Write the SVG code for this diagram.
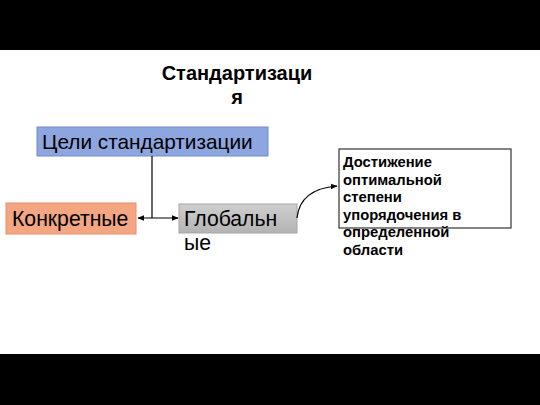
<svg xmlns="http://www.w3.org/2000/svg" width="540" height="405" viewBox="0 0 540 405">
<defs>
<style>
.t{font-family:"Liberation Sans",Arial,sans-serif;fill:#000}
.b{font-weight:bold}
.ln{stroke:#000;stroke-width:1.2;fill:none}
</style>
<marker id="ah" viewBox="0 0 10 10" refX="9" refY="5" markerWidth="7" markerHeight="7" orient="auto-start-reverse" markerUnits="userSpaceOnUse">
<path d="M0,1 L10,5 L0,9 Z" fill="#000"/>
</marker>
<linearGradient id="gg" x1="0" y1="0" x2="0" y2="1">
<stop offset="0" stop-color="#cfcfcf"/>
<stop offset="1" stop-color="#b3b3b3"/>
</linearGradient>
</defs>
<rect x="0" y="0" width="540" height="405" fill="#fff"/>
<rect x="0" y="0" width="540" height="50" fill="#000"/>
<rect x="0" y="354" width="540" height="51" fill="#000"/>

<g id="title">
<text class="t b" x="237" y="80" font-size="20" text-anchor="middle">Стандартизаци</text>
<text class="t b" x="237" y="104" font-size="20" text-anchor="middle">я</text>
</g>

<g id="goals">
<rect x="37" y="127" width="231" height="29" fill="#8ea6df" stroke="#7189c6" stroke-width="1"/>
<text class="t" x="42" y="149" font-size="20.8">Цели стандартизации</text>
</g>

<g id="concrete">
<rect x="6" y="203" width="130" height="31" fill="#f4a582" stroke="#e4906c" stroke-width="1"/>
<text class="t" x="12" y="226" font-size="21.2">Конкретные</text>
</g>

<g id="global">
<rect x="179" y="204" width="118" height="29" fill="url(#gg)" stroke="#a6a6a6" stroke-width="1"/>
<text class="t" x="184" y="226" font-size="21.2">Глобальн</text>
<text class="t" x="184" y="250" font-size="21.2">ые</text>
</g>

<g id="achieve">
<rect x="339" y="149" width="172" height="79" fill="#fff" stroke="#333" stroke-width="1.2"/>
<g class="t b" font-size="14.8">
<text x="343" y="167">Достижение</text>
<text x="343" y="184.5">оптимальной</text>
<text x="343" y="202">степени</text>
<text x="343" y="219.5">упорядочения в</text>
<text x="343" y="237">определенной</text>
<text x="343" y="254.5">области</text>
</g>
</g>

<g id="connectors">
<line class="ln" x1="152" y1="156" x2="152" y2="218"/>
<line class="ln" x1="138" y1="218" x2="178" y2="218" marker-start="url(#ah)" marker-end="url(#ah)"/>
<path class="ln" d="M297,218 C299,198 313,188 337,186" marker-end="url(#ah)"/>
</g>
</svg>
